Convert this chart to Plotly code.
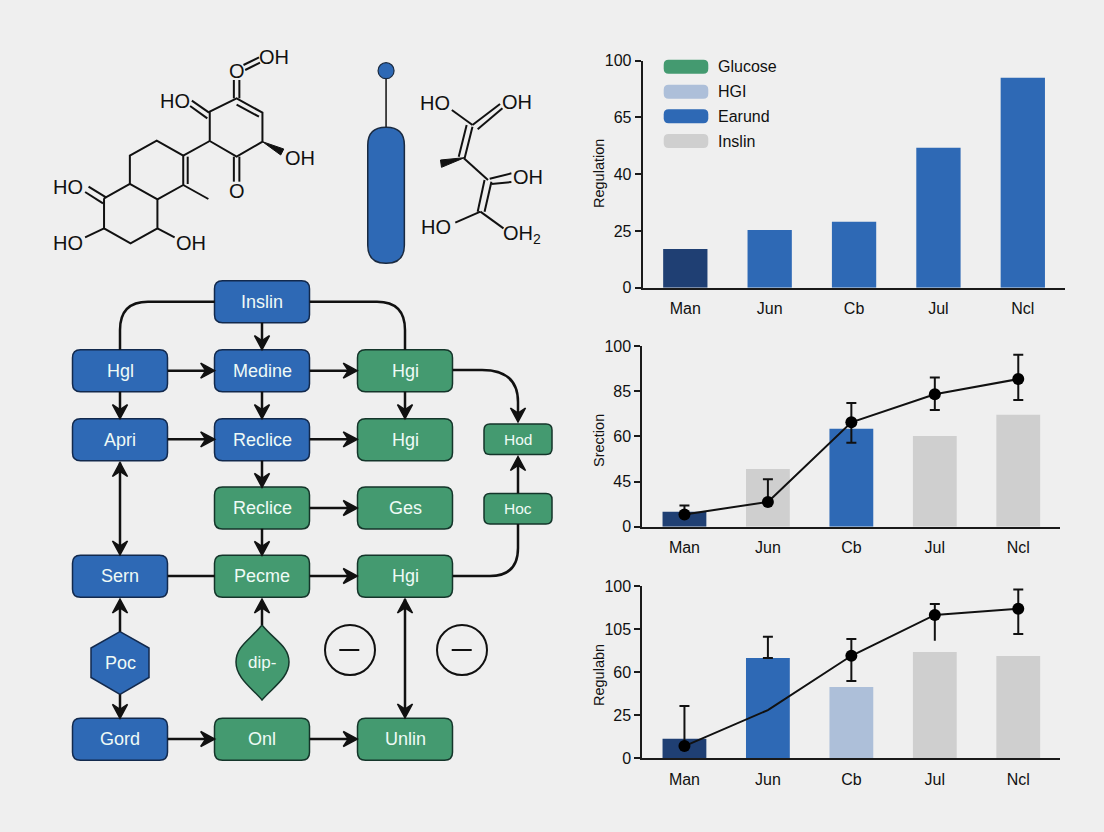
import math
import plotly.graph_objects as go

# ---------- chart data (values read on each panel's vertical scale) ----------
categories = ["Man", "Jun", "Cb", "Jul", "Ncl"]
axis_positions = [0, 25, 50, 75, 100]

top_ticks = ["0", "25", "40", "65", "100"]
top_title = "Regulation"
top_values = [17, 25.4, 29, 61.7, 92.5]

mid_ticks = ["0", "45", "60", "85", "100"]
mid_title = "Srection"
mid_values = [8.3, 31.9, 54.2, 50.2, 62]
mid_line = [6.8, 13.7, 57.8, 73.3, 81.7]
mid_err_low = [6.8, 13.7, 46.5, 64.6, 70.1]
mid_err_high = [11.8, 26.2, 68.5, 82.5, 95.2]

low_ticks = ["0", "25", "60", "105", "100"]
low_title = "Regulabn"
low_values = [11.4, 58.2, 41.4, 61.7, 59.4]
low_line = [7.1, 28, 59.5, 83.2, 86.8]
low_err_low = [7.1, 58.2, 44.8, 83.2, 72.1]
low_err_high = [30.3, 70.6, 69.2, 89.5, 98]
low_stem_jul = [83.2, 68.2]

legend_labels = ["Glucose", "HGI", "Earund", "Inslin"]

# ---------- styles ----------
BG = "#efefef"
BLUE = "#2e69b5"
NAVY = "#1f3f73"
GREEN = "#449a70"
PALE = "#adbfd9"
GREY = "#cfcfcf"
INK = "#111111"
FONT = "Liberation Sans"

top_colors = [NAVY, BLUE, BLUE, BLUE, BLUE]
mid_colors = [NAVY, GREY, BLUE, GREY, GREY]
low_colors = [NAVY, BLUE, PALE, GREY, GREY]
legend_colors = [GREEN, PALE, BLUE, GREY]

fig = go.Figure()
shapes, notes = [], []


def note(x, y, text, size=16, color=INK, angle=0, anchor="center"):
    notes.append(dict(x=x, y=y, xref="x4", yref="y4", text=text, showarrow=False,
                      textangle=angle, xanchor=anchor, yanchor="middle",
                      font=dict(family=FONT, size=size, color=color)))


def path(d, fill="rgba(0,0,0,0)", line=INK, width=2):
    shapes.append(dict(type="path", path=d, xref="x4", yref="y4", fillcolor=fill,
                       line=dict(color=line, width=width), layer="above"))


def rrect(x0, y0, x1, y1, r):
    return (f"M {x0+r} {y0} L {x1-r} {y0} Q {x1} {y0} {x1} {y0+r} L {x1} {y1-r} "
            f"Q {x1} {y1} {x1-r} {y1} L {x0+r} {y1} Q {x0} {y1} {x0} {y1-r} "
            f"L {x0} {y0+r} Q {x0} {y0} {x0+r} {y0} Z")


# ---------- the three panels ----------
panels = [
    dict(n=1, left=642.7, right=1065, top=60.7, bottom=287.7),
    dict(n=2, left=642.3, right=1060, top=346, bottom=526.7),
    dict(n=3, left=642.3, right=1060, top=586, bottom=758.3),
]
for p, vals, cols, ticks in zip(panels, [top_values, mid_values, low_values],
                                [top_colors, mid_colors, low_colors],
                                [top_ticks, mid_ticks, low_ticks]):
    ax = "" if p["n"] == 1 else str(p["n"])
    fig.add_trace(go.Bar(x=categories, y=vals, marker=dict(color=cols, line=dict(width=0)),
                         width=0.525, xaxis=f"x{ax}", yaxis=f"y{ax}", showlegend=False))
    common = dict(showgrid=False, zeroline=False, showline=True, linecolor="#1a1a1a", linewidth=2,
                  automargin=False, tickfont=dict(family=FONT, size=16, color=INK))
    fig.update_layout({
        f"xaxis{ax}": dict(domain=[p["left"]/1104, p["right"]/1104], anchor=f"y{ax}",
                           type="category", categoryorder="array", categoryarray=categories,
                           range=[-0.505, 4.5], ticks="", ticklabelstandoff=5, **common),
        f"yaxis{ax}": dict(domain=[1-p["bottom"]/832, 1-p["top"]/832], anchor=f"x{ax}",
                           range=[0, 100], tickmode="array", tickvals=axis_positions,
                           ticktext=ticks, ticks="outside", ticklen=6, tickwidth=1.5,
                           tickcolor="#1a1a1a", **common),
    })


def overlay_series(ax, line, low, high, sizes):
    fig.add_trace(go.Scatter(
        x=categories, y=low, mode="markers", marker=dict(size=1, color="rgba(0,0,0,0)"),
        error_y=dict(type="data", symmetric=False,
                     array=[h - l for h, l in zip(high, low)], arrayminus=[0]*5,
                     thickness=2, width=5, color=INK),
        xaxis=f"x{ax}", yaxis=f"y{ax}", showlegend=False))
    fig.add_trace(go.Scatter(
        x=categories, y=line, mode="lines+markers", line=dict(color=INK, width=2),
        marker=dict(size=sizes, color="#000000", opacity=1, line=dict(width=0)),
        xaxis=f"x{ax}", yaxis=f"y{ax}", showlegend=False))


overlay_series(2, mid_line, mid_err_low, mid_err_high, [12, 12, 12, 12, 12])
fig.add_trace(go.Scatter(x=["Jul", "Jul"], y=low_stem_jul, mode="lines", line=dict(color=INK, width=2),
                         xaxis="x3", yaxis="y3", showlegend=False))
overlay_series(3, low_line, low_err_low, low_err_high, [12, 0, 12, 12, 12])

# axis titles
note(599, 174, top_title, size=14.5, angle=-90)
note(599, 441, mid_title, size=14.5, angle=-90)
note(599, 675, low_title, size=14.5, angle=-90)

# legend of the top panel
for yc, lab, col in zip([66.7, 91.7, 116.3, 141], legend_labels, legend_colors):
    path(rrect(663.7, yc-7, 708.3, yc+7, 5), fill=col, line=col, width=0)
    note(715.7, yc, lab, size=16, anchor="left")


# ---------- molecules (geometry) ----------
def m(X, Y):
    return 30 + X/2.904, 30 + Y/3


bonds = [
    # left fused rings
    [(215, 505), (290, 462), (370, 508), (370, 595), (292, 640), (215, 595), (215, 505)],
    [(290, 462), (290, 377), (368, 332), (445, 377), (445, 465), (370, 508)],
    [(458, 380), (458, 462)],
    [(445, 465), (518, 507)],
    [(212, 520), (160, 486)], [(222, 503), (170, 470)],
    [(215, 595), (160, 622)],
    [(370, 595), (420, 622)],
    [(445, 377), (522, 333)],
    # upper ring
    [(522, 333), (522, 245), (600, 205), (675, 248), (675, 335), (600, 380), (522, 333)],
    [(600, 224), (665, 260)],
    [(592, 380), (592, 455)], [(608, 380), (608, 455)],
    [(592, 205), (592, 150)], [(608, 205), (608, 150)],
    [(620, 105), (665, 82)], [(625, 120), (668, 98)],
    [(520, 248), (470, 212)], [(515, 265), (465, 228)],
    # right molecule
    [(1225, 240), (1285, 285)],
    [(1285, 285), (1365, 222)], [(1300, 298), (1372, 235)],
    [(1268, 285), (1245, 380)], [(1285, 290), (1262, 385)],
    [(1260, 385), (1330, 450)],
    [(1335, 446), (1398, 430)], [(1340, 462), (1398, 456)],
    [(1320, 450), (1300, 545)], [(1340, 455), (1320, 545)],
    [(1308, 545), (1235, 578)],
    [(1308, 545), (1375, 595)],
]
bx, by = [], []
for b in bonds:
    for X, Y in b:
        px, py = m(X, Y)
        bx.append(px)
        by.append(py)
    bx.append(None)
    by.append(None)
fig.add_trace(go.Scatter(x=bx, y=by, mode="lines", line=dict(color=INK, width=2),
                         xaxis="x4", yaxis="y4", showlegend=False, hoverinfo="skip"))

for tri in [[(675, 335), (737, 357), (728, 375)], [(1262, 383), (1192, 390), (1195, 412)]]:
    pts = [m(*t) for t in tri]
    path("M " + " L ".join(f"{a} {b}" for a, b in pts) + " Z", fill=INK, line=INK, width=1)

for X, Y, t in [(110, 470, "HO"), (110, 640, "HO"), (468, 640, "OH"), (783, 385, "OH"),
                (600, 483, "O"), (600, 123, "O"), (710, 82, "OH"), (420, 214, "HO"),
                (1177, 218, "HO"), (1415, 215, "OH"), (1445, 441, "OH"), (1180, 590, "HO"),
                (1430, 614, "OH<sub>2</sub>")]:
    px, py = m(X, Y)
    note(px, py, t, size=20)

# pin
px, _ = m(1034, 0)
path(f"M {px} 78 L {px} 128", width=1.5)
shapes.append(dict(type="circle", xref="x4", yref="y4", x0=px-8, x1=px+8, y0=62.7, y1=78.7,
                   fillcolor=BLUE, line=dict(color="#1a2a40", width=1.2), layer="above"))
path(rrect(px-18.3, 127.3, px+18.3, 263.3, 18), fill=BLUE, line="#1a2a40", width=1.5)

# ---------- flow diagram ----------
C1, C2, C3, C4 = 120, 262, 405, 518
R1, R2, R3, R4, R5, R7 = 301.7, 370.7, 439.7, 508, 576.3, 739.3
HW, HH = 47.5, 21
BLUE_EDGE, GREEN_EDGE = "#12294d", "#14352a"
node_list = [
    (C2, R1, "Inslin", "b"), (C1, R2, "Hgl", "b"), (C2, R2, "Medine", "b"), (C3, R2, "Hgi", "g"),
    (C1, R3, "Apri", "b"), (C2, R3, "Reclice", "b"), (C3, R3, "Hgi", "g"),
    (C2, R4, "Reclice", "g"), (C3, R4, "Ges", "g"),
    (C1, R5, "Sern", "b"), (C2, R5, "Pecme", "g"), (C3, R5, "Hgi", "g"),
    (C1, R7, "Gord", "b"), (C2, R7, "Onl", "g"), (C3, R7, "Unlin", "g"),
]
TXT = "#eefaf6"
for x, y, t, kind in node_list:
    fill, edge = (BLUE, BLUE_EDGE) if kind == "b" else (GREEN, GREEN_EDGE)
    path(rrect(x-HW, y-HH, x+HW, y+HH, 8), fill=fill, line=edge, width=1.5)
    note(x, y, t, size=18, color=TXT)
for y, t in [(439.3, "Hod"), (508.7, "Hoc")]:
    path(rrect(C4-34, y-15.3, C4+34, y+15.3, 6), fill=GREEN, line=GREEN_EDGE, width=1.5)
    note(C4, y, t, size=15.5, color=TXT)

path("M 120 631.7 L 149 648 L 149 677.5 L 120 694.3 L 91 677.5 L 91 648 Z",
     fill=BLUE, line=BLUE_EDGE, width=1.5)
note(120, 663, "Poc", size=18, color=TXT)
path("M 262 625 C 274 640 289 646 289 662 C 289 678 272 688 262 700 "
     "C 252 688 236 678 236 662 C 236 646 250 640 262 625 Z",
     fill=GREEN, line=GREEN_EDGE, width=1.5)
note(262, 662, "dip-", size=17, color=TXT)

for cx, mx0, mx1 in [(350, 339.3, 359.3), (462, 451.7, 471.7)]:
    shapes.append(dict(type="circle", xref="x4", yref="y4", x0=cx-25, x1=cx+25, y0=625, y1=675,
                       line=dict(color=INK, width=2), layer="above"))
    path(f"M {mx0} 650 L {mx1} 650", width=2)


def head(tipx, tipy, dx, dy):
    L, W, N = 14, 7.5, 9
    px_, py_ = -dy, dx
    a = (tipx - dx*L + px_*W, tipy - dy*L + py_*W)
    b = (tipx - dx*L - px_*W, tipy - dy*L - py_*W)
    c = (tipx - dx*N, tipy - dy*N)
    path(f"M {tipx} {tipy} L {a[0]} {a[1]} L {c[0]} {c[1]} L {b[0]} {b[1]} Z",
         fill=INK, line=INK, width=1.5)


def arrow(x0, y0, x1, y1, start=False, end=True):
    n = math.hypot(x1-x0, y1-y0)
    dx, dy = (x1-x0)/n, (y1-y0)/n
    path(f"M {x0} {y0} L {x1-dx*8 if end else x1} {y1-dy*8 if end else y1}", width=2.5)
    if end:
        head(x1, y1, dx, dy)
    if start:
        head(x0, y0, -dx, -dy)


GX = [(167.7, 214.7), (309.7, 357.3)]
for x0, x1 in [GX[0], GX[1]]:
    arrow(x0, R2, x1, R2)
    arrow(x0, 439.3, x1, 439.3)
    arrow(x0, 739, x1, 739)
arrow(GX[1][0], 508, GX[1][1], 508)
arrow(GX[1][0], 576, GX[1][1], 576)
path("M 167.7 576 L 214.7 576", width=2.5)

for x, y0, y1 in [(C2, 322.7, 349.7), (C1, 391.7, 418.7), (C2, 391.7, 418.7), (C3, 391.7, 418.7),
                  (C2, 460.7, 487.3), (C2, 528.7, 555.3), (C1, 694.3, 718.3)]:
    arrow(x, y0, x, y1)
arrow(C1, 631.7, C1, 599)
arrow(C2, 625, C2, 599)
arrow(C4, 493.3, C4, 456.5)
arrow(C1, 462.5, C1, 555, start=True)
arrow(C3, 599, C3, 718, start=True)

path("M 214.7 301.7 L 148 301.7 Q 120 301.7 120 330 L 120 349.7", width=2.5)
path("M 309.7 301.7 L 377 301.7 Q 405 301.7 405 330 L 405 349.7", width=2.5)
path("M 452.7 370 L 482 370 Q 518 370 518 402 L 518 414", width=2.5)
head(C4, 422, 0, 1)
path("M 452.7 576 L 490 576 Q 518 576 518 548 L 518 524", width=2.5)

# ---------- layout ----------
fig.update_layout(
    template="none",
    width=1104, height=832, autosize=False,
    margin=dict(l=0, r=0, t=0, b=0, pad=0, autoexpand=False),
    paper_bgcolor=BG, plot_bgcolor="rgba(0,0,0,0)",
    showlegend=False, bargap=0.47,
    xaxis4=dict(domain=[0, 1], range=[0, 1104], visible=False, anchor="y4", fixedrange=True, automargin=False),
    yaxis4=dict(domain=[0, 1], range=[832, 0], visible=False, anchor="x4", fixedrange=True, automargin=False),
    shapes=shapes, annotations=notes,
)
fig.write_html("out.html", config=dict(displayModeBar=False),
               post_script="document.body.style.margin='0';document.body.style.background='%s';" % BG)
